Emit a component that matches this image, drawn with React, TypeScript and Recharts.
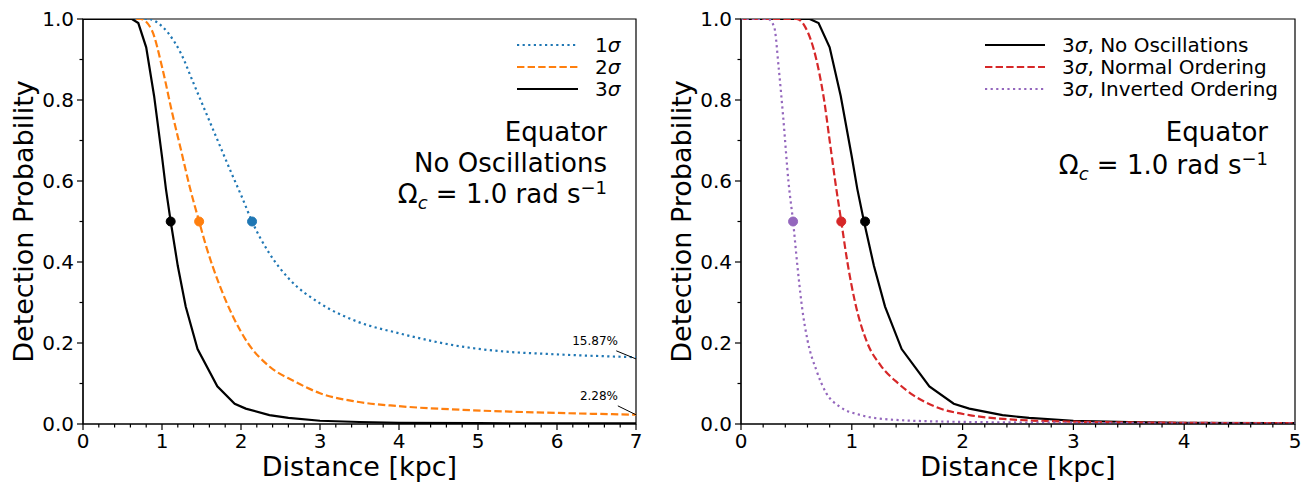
import React from 'react';
import {
  LineChart,
  Line,
  XAxis,
  YAxis,
  ReferenceDot,
  ReferenceLine,
  ReferenceArea,
  Legend,
} from 'recharts';

const FONT = '"DejaVu Sans", "Liberation Sans", sans-serif';

// ---------- tick labels ----------
const leftXMajor = [0, 1, 2, 3, 4, 5, 6, 7];
const rightXMajor = [0, 1, 2, 3, 4, 5];
const yMajor = [0.0, 0.2, 0.4, 0.6, 0.8, 1.0];

// ---------- left panel: Equator, No Oscillations ----------
const dist1s = [0, 0.84, 0.95, 1.08, 1.24, 1.4, 1.56, 1.72, 1.88, 2.01, 2.14, 2.36, 2.62, 3.0, 3.47, 4.0, 4.8, 5.33, 5.87, 6.5, 7.0];
const prob1s = [1, 1, 0.99, 0.965, 0.915, 0.841, 0.767, 0.693, 0.619, 0.561, 0.5, 0.421, 0.356, 0.298, 0.253, 0.224, 0.191, 0.179, 0.173, 0.168, 0.165];

const dist2s = [0, 0.73, 0.87, 1.0, 1.13, 1.24, 1.35, 1.47, 1.56, 1.72, 1.9, 2.09, 2.36, 2.68, 3.0, 3.47, 4.0, 4.8, 5.87, 7.0];
const prob2s = [1, 1, 0.973, 0.882, 0.767, 0.677, 0.586, 0.5, 0.438, 0.347, 0.265, 0.199, 0.142, 0.105, 0.076, 0.055, 0.044, 0.035, 0.028, 0.023];

const dist3s = [0, 0.62, 0.7, 0.8, 0.9, 1.0, 1.05, 1.11, 1.2, 1.3, 1.45, 1.7, 1.92, 2.06, 2.36, 2.6, 3.0, 3.5, 4.0, 5.0, 6.0, 7.0];
const prob3s = [1, 1, 0.99, 0.93, 0.81, 0.66, 0.58, 0.5, 0.39, 0.29, 0.185, 0.093, 0.05, 0.038, 0.022, 0.015, 0.008, 0.005, 0.003, 0.002, 0.0015, 0.0013];

// distance where each curve crosses 50 % (1σ, 2σ, 3σ)
const leftHalfDist = [2.14, 1.47, 1.11];

// ---------- right panel: 3σ with oscillations ----------
const distNO = [0, 0.5, 0.58, 0.68, 0.75, 0.8, 0.85, 0.905, 0.96, 1.03, 1.14, 1.26, 1.42, 1.55, 1.75, 2.06, 2.4, 2.96, 4.0, 5.0];
const probNO = [1, 1, 0.98, 0.9, 0.8, 0.7, 0.6, 0.5, 0.4, 0.3, 0.2, 0.145, 0.1, 0.072, 0.043, 0.022, 0.012, 0.006, 0.003, 0.002];

const distIO = [0, 0.245, 0.3, 0.34, 0.38, 0.43, 0.47, 0.51, 0.55, 0.6, 0.68, 0.77, 0.89, 1.08, 1.3, 1.83, 2.96, 5.0];
const probIO = [1, 1, 0.98, 0.88, 0.76, 0.594, 0.5, 0.388, 0.29, 0.207, 0.133, 0.076, 0.043, 0.022, 0.012, 0.006, 0.003, 0.001];

// 50 % crossing (No Osc, NO, IO)
const rightHalfDist = [1.12, 0.905, 0.47];

// asymptote annotations
const asymLabels = ['15.87%', '2.28%'];
const asymValues = [0.1587, 0.0228];

const toPts = (xs: number[], ys: number[]) => xs.map((x, i) => ({ x, y: ys[i] }));
const minorTicks = (max: number, step: number) => {
  const out: number[] = [];
  const n = Math.round(max / step);
  for (let i = 0; i <= n; i++) out.push(Math.round(i * step * 1000) / 1000);
  return out;
};

const pts1s = toPts(dist1s, prob1s);
const pts2s = toPts(dist2s, prob2s);
const pts3s = toPts(dist3s, prob3s);
const ptsNO = toPts(distNO, probNO);
const ptsIO = toPts(distIO, probIO);

const leftXTicks = minorTicks(leftXMajor[leftXMajor.length - 1], 0.2);
const rightXTicks = minorTicks(rightXMajor[rightXMajor.length - 1], 0.2);
const yTicks = minorTicks(yMajor[yMajor.length - 1], 0.1);

const BLUE = '#1f77b4';
const ORANGE = '#ff7f0e';
const RED = '#d62728';
const PURPLE = '#9467bd';
const BLACK = '#000000';

const DOT = '2.2 3.4';
const DASH = '7.4 3.2';
const ANN = 26;

const XTick = (props: any) => {
  const { x, y, payload } = props;
  const v = payload.value as number;
  const major = Math.abs(v - Math.round(v)) < 1e-6;
  return (
    <g>
      <line x1={x} x2={x} y1={y} y2={y + (major ? 6 : 3.5)} stroke="#000" strokeWidth={1.2} />
      {major && (
        <text x={x} y={y + 24} textAnchor="middle" fontSize={20} fontFamily={FONT} fill="#000">
          {Math.round(v)}
        </text>
      )}
    </g>
  );
};

const YTick = (props: any) => {
  const { x, y, payload } = props;
  const v = payload.value as number;
  const major = Math.abs(v * 5 - Math.round(v * 5)) < 1e-6;
  return (
    <g>
      <line x1={x} x2={x - (major ? 6 : 3.5)} y1={y} y2={y} stroke="#000" strokeWidth={1.2} />
      {major && (
        <text x={x - 9} y={y + 7} textAnchor="end" fontSize={20} fontFamily={FONT} fill="#000">
          {v.toFixed(1)}
        </text>
      )}
    </g>
  );
};

const xLabel = (p: any) => {
  const vb = p.viewBox || {};
  return (
    <text x={vb.x + vb.width / 2} y={vb.y + 52} textAnchor="middle" fontSize={27} fontFamily={FONT} fill="#000">
      Distance [kpc]
    </text>
  );
};

const makeYLabel = (base: number) => (p: any) => {
  const vb = p.viewBox || {};
  const cx = vb.x + base;
  const cy = vb.y + vb.height / 2;
  return (
    <text
      x={cx}
      y={cy}
      transform={`rotate(-90, ${cx}, ${cy})`}
      textAnchor="middle"
      fontSize={27}
      fontFamily={FONT}
      fill="#000"
    >
      Detection Probability
    </text>
  );
};

const Sig = ({ n }: { n: string }) => (
  <>
    {n}
    <tspan fontStyle="italic">σ</tspan>
  </>
);

const LeftLegend = () => {
  const rows = [
    { label: '1', color: BLUE, dash: DOT },
    { label: '2', color: ORANGE, dash: DASH },
    { label: '3', color: BLACK, dash: undefined },
  ];
  return (
    <svg width={140} height={75} style={{ overflow: 'visible' }}>
      {rows.map((r, i) => (
        <g key={i}>
          <line x1={7} x2={68} y1={15 + i * 22} y2={15 + i * 22} stroke={r.color} strokeWidth={2.2} strokeDasharray={r.dash} />
          <text x={85} y={22 + i * 22} fontSize={20} fontFamily={FONT} fill="#000">
            <Sig n={r.label} />
          </text>
        </g>
      ))}
    </svg>
  );
};

const RightLegend = () => {
  const rows = [
    { label: ', No Oscillations', color: BLACK, dash: undefined },
    { label: ', Normal Ordering', color: RED, dash: DASH },
    { label: ', Inverted Ordering', color: PURPLE, dash: DOT },
  ];
  return (
    <svg width={330} height={75} style={{ overflow: 'visible' }}>
      {rows.map((r, i) => (
        <g key={i}>
          <line x1={25} x2={85} y1={15 + i * 22} y2={15 + i * 22} stroke={r.color} strokeWidth={2.2} strokeDasharray={r.dash} />
          <text x={102} y={22 + i * 22} fontSize={20} fontFamily={FONT} fill="#000">
            <Sig n="3" />
            {r.label}
          </text>
        </g>
      ))}
    </svg>
  );
};

const OmegaText = ({ x, y }: { x: number; y: number }) => (
  <text x={x} y={y} textAnchor="end" fontSize={ANN} fontFamily={FONT} fill="#000">
    Ω
    <tspan fontStyle="italic" fontSize={18} dy={6}>c</tspan>
    <tspan dy={-6}> = 1.0 rad s</tspan>
    <tspan fontSize={18} dy={-9}>−1</tspan>
  </text>
);

const axisLineStyle = { stroke: '#000', strokeWidth: 1.2 };

export default function App() {
  return (
    <div style={{ position: 'absolute', left: 0, top: 0, width: 1307, height: 483, background: '#fff' }}>
      {/* Left panel */}
      <div style={{ position: 'absolute', left: 0, top: 0, width: 660, height: 483 }}>
        <LineChart width={660} height={483} margin={{ top: 19, right: 24, bottom: 0, left: 0 }}>
          <XAxis
            type="number"
            dataKey="x"
            domain={[0, 7]}
            ticks={leftXTicks}
            interval={0}
            allowDataOverflow
            tick={<XTick />}
            tickLine={false}
            tickSize={0}
            tickMargin={0}
            height={59}
            axisLine={axisLineStyle}
            label={xLabel}
          />
          <YAxis
            type="number"
            domain={[0, 1]}
            ticks={yTicks}
            interval={0}
            allowDataOverflow
            tick={<YTick />}
            tickLine={false}
            tickSize={0}
            tickMargin={0}
            width={83}
            axisLine={axisLineStyle}
            label={makeYLabel(33)}
          />
          <ReferenceArea x1={0} x2={7} y1={0} y2={1} fill="none" fillOpacity={0} stroke="#000" strokeWidth={1.2} />
          <Line data={pts1s} dataKey="y" type="monotoneX" stroke={BLUE} strokeWidth={2.2} strokeDasharray={DOT} dot={false} isAnimationActive={false} />
          <Line data={pts2s} dataKey="y" type="monotoneX" stroke={ORANGE} strokeWidth={2.2} strokeDasharray={DASH} dot={false} isAnimationActive={false} />
          <Line data={pts3s} dataKey="y" type="linear" stroke={BLACK} strokeWidth={2.2} dot={false} isAnimationActive={false} />
          <ReferenceDot x={leftHalfDist[0]} y={0.5} r={4.5} fill={BLUE} stroke={BLUE} />
          <ReferenceDot x={leftHalfDist[1]} y={0.5} r={4.5} fill={ORANGE} stroke={ORANGE} />
          <ReferenceDot x={leftHalfDist[2]} y={0.5} r={4.5} fill={BLACK} stroke={BLACK} />
          <ReferenceLine segment={[{ x: 6.75, y: asymValues[0] + 0.022 }, { x: 7, y: asymValues[0] + 0.002 }]} stroke="#000" strokeWidth={1} ifOverflow="visible" />
          <ReferenceLine segment={[{ x: 6.77, y: asymValues[1] + 0.022 }, { x: 7, y: asymValues[1] }]} stroke="#000" strokeWidth={1} ifOverflow="visible" />
          <Legend
            layout="horizontal"
            verticalAlign="middle"
            align="center"
            content={<LeftLegend />}
            wrapperStyle={{ position: 'absolute', left: 510, top: 30, width: 140, height: 75 }}
          />
        </LineChart>
        <svg width={660} height={483} style={{ position: 'absolute', left: 0, top: 0, pointerEvents: 'none' }}>
          <text x={607} y={141} textAnchor="end" fontSize={ANN} fontFamily={FONT} fill="#000">Equator</text>
          <text x={607} y={172} textAnchor="end" fontSize={ANN} fontFamily={FONT} fill="#000">No Oscillations</text>
          <OmegaText x={607} y={203} />
          <text x={618} y={345} textAnchor="end" fontSize={12} fontFamily={FONT} fill="#000">{asymLabels[0]}</text>
          <text x={618} y={400} textAnchor="end" fontSize={12} fontFamily={FONT} fill="#000">{asymLabels[1]}</text>
        </svg>
      </div>

      {/* Right panel */}
      <div style={{ position: 'absolute', left: 660, top: 0, width: 647, height: 483 }}>
        <LineChart width={647} height={483} margin={{ top: 19, right: 12, bottom: 0, left: 0 }}>
          <XAxis
            type="number"
            dataKey="x"
            domain={[0, 5]}
            ticks={rightXTicks}
            interval={0}
            allowDataOverflow
            tick={<XTick />}
            tickLine={false}
            tickSize={0}
            tickMargin={0}
            height={59}
            axisLine={axisLineStyle}
            label={xLabel}
          />
          <YAxis
            type="number"
            domain={[0, 1]}
            ticks={yTicks}
            interval={0}
            allowDataOverflow
            tick={<YTick />}
            tickLine={false}
            tickSize={0}
            tickMargin={0}
            width={81}
            axisLine={axisLineStyle}
            label={makeYLabel(31)}
          />
          <ReferenceArea x1={0} x2={5} y1={0} y2={1} fill="none" fillOpacity={0} stroke="#000" strokeWidth={1.2} />
          <Line data={pts3s} dataKey="y" type="linear" stroke={BLACK} strokeWidth={2.2} dot={false} isAnimationActive={false} />
          <Line data={ptsNO} dataKey="y" type="monotoneX" stroke={RED} strokeWidth={2.2} strokeDasharray={DASH} dot={false} isAnimationActive={false} />
          <Line data={ptsIO} dataKey="y" type="monotoneX" stroke={PURPLE} strokeWidth={2.2} strokeDasharray={DOT} dot={false} isAnimationActive={false} />
          <ReferenceDot x={rightHalfDist[0]} y={0.5} r={4.5} fill={BLACK} stroke={BLACK} />
          <ReferenceDot x={rightHalfDist[1]} y={0.5} r={4.5} fill={RED} stroke={RED} />
          <ReferenceDot x={rightHalfDist[2]} y={0.5} r={4.5} fill={PURPLE} stroke={PURPLE} />
          <Legend
            layout="horizontal"
            verticalAlign="middle"
            align="center"
            content={<RightLegend />}
            wrapperStyle={{ position: 'absolute', left: 300, top: 30, width: 330, height: 75 }}
          />
        </LineChart>
        <svg width={647} height={483} style={{ position: 'absolute', left: 0, top: 0, pointerEvents: 'none' }}>
          <text x={608} y={141} textAnchor="end" fontSize={ANN} fontFamily={FONT} fill="#000">Equator</text>
          <OmegaText x={608} y={174} />
        </svg>
      </div>
    </div>
  );
}
